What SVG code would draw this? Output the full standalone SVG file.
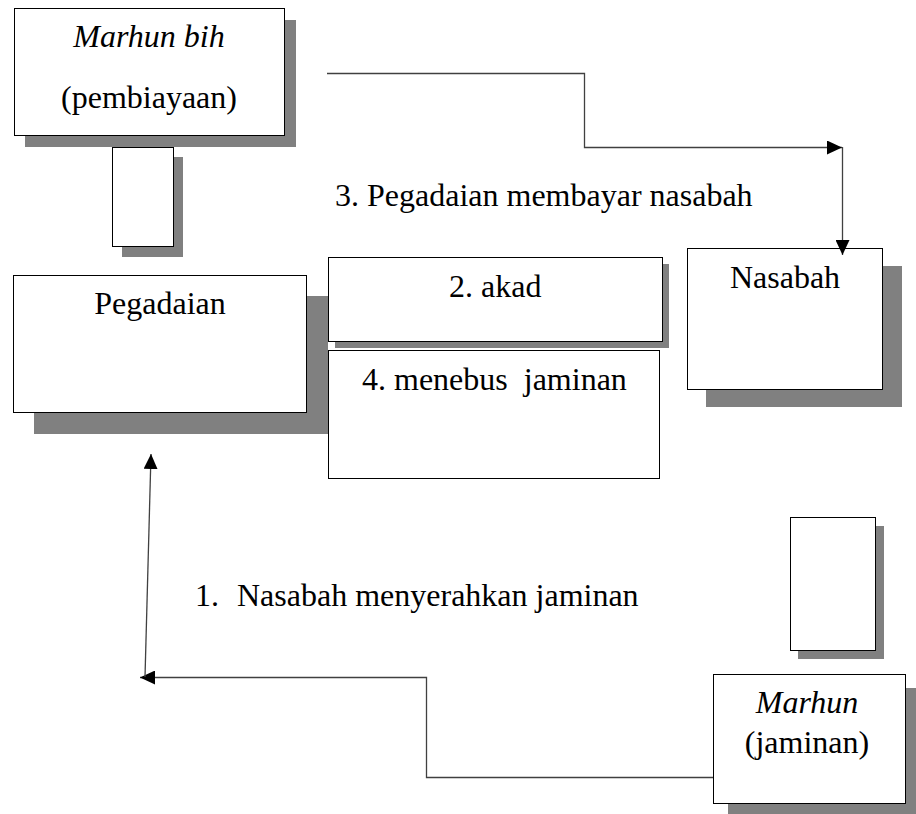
<svg xmlns="http://www.w3.org/2000/svg" width="916" height="814" viewBox="0 0 916 814">
  <style>
    .shadow { fill: #808080; stroke: none; }
    .box { fill: #ffffff; stroke: #000000; stroke-width: 1; }
    .lbl { font-family: "Liberation Serif", "Times New Roman", serif; font-size: 32px; fill: #000000; }
    .it { font-style: italic; }
    .mid { text-anchor: middle; }
    .conn { fill: none; stroke: #404040; stroke-width: 1.3; }
  </style>
  <defs>
    <marker id="arrow" markerUnits="userSpaceOnUse" markerWidth="16" markerHeight="14" refX="15" refY="7" orient="auto">
      <path d="M0,0 L15,7 L0,14 Z" fill="#000000"/>
    </marker>
  </defs>
  <rect width="916" height="814" fill="#ffffff"/>

  <!-- financing (marhun bih) -->
  <g id="marhun-bih">
    <rect class="shadow" x="25" y="20" width="271" height="127"/>
    <rect class="box" x="14.5" y="8.5" width="270" height="127"/>
    <text class="lbl it mid" x="149" y="47">Marhun bih</text>
    <text class="lbl mid" x="149" y="108">(pembiayaan)</text>
  </g>

  <!-- small tag under the financing box -->
  <g id="tag-top">
    <rect class="shadow" x="122" y="157" width="61" height="100"/>
    <rect class="box" x="112.5" y="147.5" width="61" height="99"/>
  </g>

  <!-- pawnshop -->
  <g id="pegadaian">
    <rect class="shadow" x="34" y="296" width="294" height="138"/>
    <rect class="box" x="13.5" y="275.5" width="293" height="137"/>
    <text class="lbl mid" x="160" y="314">Pegadaian</text>
  </g>

  <!-- step 2: contract -->
  <g id="akad">
    <rect class="shadow" x="335" y="264" width="334" height="84"/>
    <rect class="box" x="328.5" y="257.5" width="334" height="84"/>
    <text class="lbl" x="449" y="297">2. akad</text>
  </g>

  <!-- step 4: redeem collateral -->
  <g id="menebus">
    <rect class="box" x="328.5" y="350.5" width="331" height="128"/>
    <text class="lbl" x="362" y="390" xml:space="preserve">4. menebus  jaminan</text>
  </g>

  <!-- customer -->
  <g id="nasabah">
    <rect class="shadow" x="706" y="266" width="196" height="141"/>
    <rect class="box" x="687.5" y="248.5" width="195" height="141"/>
    <text class="lbl mid" x="785" y="288">Nasabah</text>
  </g>

  <!-- small tag above the collateral box -->
  <g id="tag-bottom">
    <rect class="shadow" x="798" y="526" width="86" height="133"/>
    <rect class="box" x="790.5" y="517.5" width="85" height="133"/>
  </g>

  <!-- collateral (marhun) -->
  <g id="marhun">
    <rect class="shadow" x="728" y="688" width="194" height="130"/>
    <rect class="box" x="713.5" y="674.5" width="192" height="129"/>
    <text class="lbl it mid" x="807" y="713">Marhun</text>
    <text class="lbl mid" x="807" y="753">(jaminan)</text>
  </g>

  <!-- free-standing step labels -->
  <g id="step-labels">
    <text class="lbl" x="335" y="206">3. Pegadaian membayar nasabah</text>
    <text class="lbl" y="606"><tspan x="195">1.</tspan><tspan x="237">Nasabah menyerahkan jaminan</tspan></text>
  </g>

  <!-- connectors -->
  <g id="connectors">
    <polyline class="conn" points="327,73.5 584.5,73.5 584.5,147.5 842,147.5" marker-end="url(#arrow)"/>
    <line class="conn" x1="842.5" y1="147" x2="842.5" y2="255" marker-end="url(#arrow)"/>
    <polyline class="conn" points="713,777.5 426.5,777.5 426.5,677.5 140,677.5" marker-end="url(#arrow)"/>
    <line class="conn" x1="145" y1="677" x2="151" y2="454" marker-end="url(#arrow)"/>
  </g>
</svg>
